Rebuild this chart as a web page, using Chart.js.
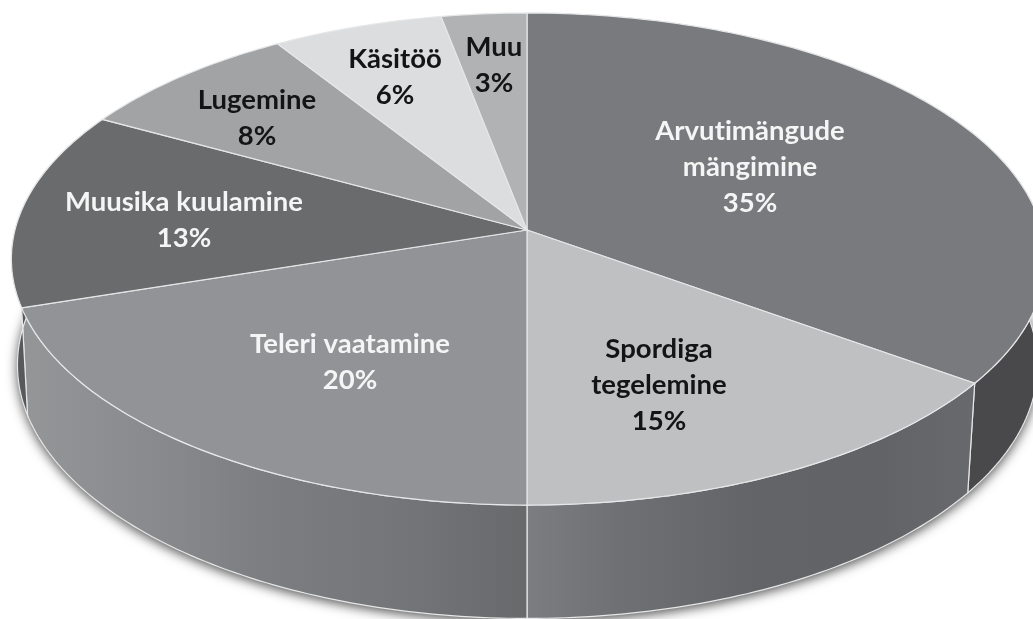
<!DOCTYPE html>
<html>
<head>
<meta charset="utf-8">
<style>
  html, body { margin: 0; padding: 0; background: #fff; }
  canvas { display: block; }
</style>
<script src="https://cdn.jsdelivr.net/npm/chart.js@4/dist/chart.umd.min.js"></script>
</head>
<body>
<canvas id="chart" width="1033" height="619"></canvas>
<script>
// data
const categories = ['Arvutimängude mängimine', 'Spordiga tegelemine', 'Teleri vaatamine', 'Muusika kuulamine', 'Lugemine', 'Käsitöö', 'Muu'];
const shares = [35, 15, 20, 13, 8, 6, 3];
const labelLines = [['Arvutimängude', 'mängimine'], ['Spordiga', 'tegelemine'], ['Teleri vaatamine'], ['Muusika kuulamine'], ['Lugemine'], ['Käsitöö'], ['Muu']];

// styles
const topColors = ['#797a7d', '#bfc0c2', '#929396', '#6a6b6d', '#a2a3a5', '#dcdddf', '#b1b2b4'];
const textColors = ['#f5f5f5', '#141414', '#f5f5f5', '#f5f5f5', '#141414', '#141414', '#141414'];
const wallStops = [
  [[0, '#49494b'], [1, '#49494b']],
  [[0.51, '#7c7d80'], [0.60, '#6f7073'], [0.73, '#636467'], [0.85, '#626366'], [0.94, '#68696c']],
  [[0.03, '#949597'], [0.17, '#87888b'], [0.25, '#7d7e81'], [0.39, '#747578'], [0.51, '#68696b']],
  [[0, '#58595b'], [1, '#58595b']]
];
const labelCentres = [[750, 167], [659, 385], [350, 362], [184, 220], [257, 118], [395, 77], [494, 65]];
const lineGap = 36;
const edgeColor = '#e6e7e8';

// perspective of the disc: top face and the lower rim of the wall
const topFace = { cx: 527, cy: 230, left: 512, right: 515, b: 242.6 };
const lowerRim = { cx: 527, cy: 335, left: 506, right: 507, b: 250 };
const tilt = 0.118;

function project(face, angle) {
  const u = Math.cos(angle), v = Math.sin(angle);
  const w = 1 - tilt * v;
  return [face.cx + (u < 0 ? face.left : face.right) * u / w, face.cy + face.b * v / w];
}

function traceArc(ctx, face, from, to, moveFirst) {
  const steps = Math.max(8, Math.ceil(Math.abs(to - from) * 60));
  for (let i = 0; i <= steps; i++) {
    const p = project(face, from + (to - from) * i / steps);
    if (i === 0 && moveFirst) ctx.moveTo(p[0], p[1]);
    else ctx.lineTo(p[0], p[1]);
  }
}

function drawWalls(ctx, arcs) {
  // soft shadow under the disc
  ctx.save();
  ctx.shadowColor = 'rgba(0,0,0,0.7)';
  ctx.shadowBlur = 12;
  ctx.shadowOffsetY = 3;
  ctx.fillStyle = '#666';
  ctx.beginPath();
  traceArc(ctx, lowerRim, 0, Math.PI * 2, true);
  ctx.closePath();
  ctx.fill();
  ctx.restore();

  wallStops.forEach((stops, i) => {
    const arc = arcs[i];
    const g = ctx.createLinearGradient(0, 0, 1033, 0);
    stops.forEach(s => g.addColorStop(s[0], s[1]));
    ctx.beginPath();
    traceArc(ctx, topFace, arc.startAngle, arc.endAngle, true);
    traceArc(ctx, lowerRim, arc.endAngle, arc.startAngle, false);
    ctx.closePath();
    ctx.fillStyle = g;
    ctx.fill();
    ctx.strokeStyle = edgeColor;
    ctx.lineWidth = 1.2;
    ctx.stroke();
  });
}

function drawTop(ctx, arcs, colors) {
  arcs.forEach((arc, i) => {
    ctx.beginPath();
    ctx.moveTo(topFace.cx, topFace.cy);
    traceArc(ctx, topFace, arc.startAngle, arc.endAngle, false);
    ctx.closePath();
    ctx.fillStyle = colors[i];
    ctx.fill();
    ctx.strokeStyle = edgeColor;
    ctx.lineWidth = 1.2;
    ctx.stroke();
  });
}

function drawLabels(ctx) {
  ctx.font = 'bold 27.5px Lato, "Open Sans", sans-serif';
  ctx.letterSpacing = '0.01px'; // keeps "ti" from turning into a ligature
  ctx.textAlign = 'center';
  ctx.textBaseline = 'middle';
  labelLines.forEach((lines, i) => {
    const rows = lines.concat(shares[i] + '%');
    const top = labelCentres[i][1] - (rows.length - 1) * lineGap / 2;
    ctx.fillStyle = textColors[i];
    rows.forEach((row, r) => ctx.fillText(row, labelCentres[i][0], top + r * lineGap));
  });
}

// the arcs keep their angles from the library, only the drawing is put in perspective
const perspectivePie = {
  id: 'perspectivePie',
  beforeDatasetsDraw(chart) {
    const ctx = chart.ctx;
    const arcs = chart.getDatasetMeta(0).data;
    ctx.save();
    drawWalls(ctx, arcs);
    drawTop(ctx, arcs, chart.data.datasets[0].backgroundColor);
    drawLabels(ctx);
    ctx.restore();
    return false;
  }
};

new Chart(document.getElementById('chart').getContext('2d'), {
  type: 'pie',
  data: {
    labels: categories,
    datasets: [{ data: shares, backgroundColor: topColors, borderColor: edgeColor, borderWidth: 1 }]
  },
  options: {
    responsive: false,
    animation: false,
    plugins: { legend: { display: false }, tooltip: { enabled: false } }
  },
  plugins: [perspectivePie]
});
</script>
</body>
</html>
